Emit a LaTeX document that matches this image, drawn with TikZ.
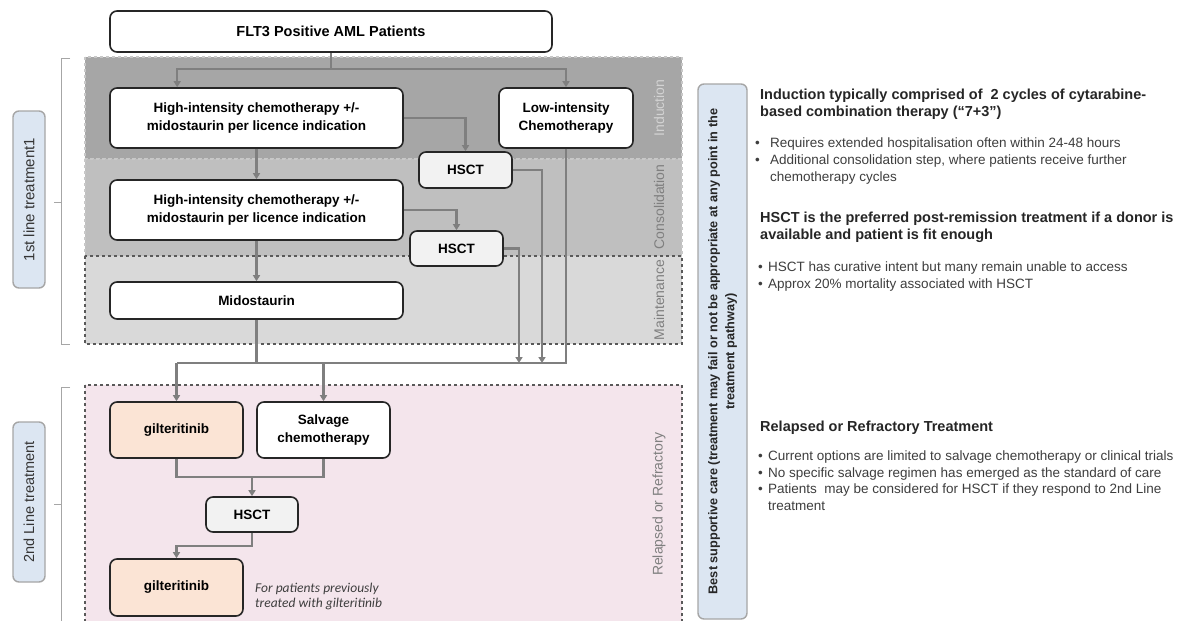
\documentclass[tikz,border=0pt]{standalone}
\usepackage{fontspec}
\setmainfont{Liberation Sans}
\newfontfamily\notefont{Carlito}
\usepackage{tikz}
\usepackage{xcolor}
\usetikzlibrary{arrows.meta}
\definecolor{indc}{HTML}{A6A6A6}
\definecolor{conc}{HTML}{BFBFBF}
\definecolor{mntc}{HTML}{D9D9D9}
\definecolor{relc}{HTML}{F4E5EC}
\definecolor{bluc}{HTML}{DCE6F2}
\definecolor{gilc}{HTML}{FBE4D5}
\definecolor{hsc}{HTML}{F2F2F2}
\definecolor{lnc}{HTML}{7F7F7F}
\definecolor{bdc}{HTML}{262626}
\definecolor{lgc}{HTML}{C8C8C8}
\definecolor{dkc}{HTML}{595959}
\newcommand\bul[1][15pt]{\makebox[#1][l]{\textbullet}}
\tikzset{
  box/.style={draw=bdc, line width=1.6pt, rounded corners=7pt, fill=white,
    align=center, inner sep=0pt, font=\fontsize{13.5}{18}\selectfont\bfseries},
  stage/.style={dashed, line width=1.2pt},
  ln/.style={draw=lnc, line width=2.4pt},
  lab/.style={rotate=90, text=lnc, font=\fontsize{14}{16}\selectfont},
  side/.style={rotate=90, draw=indc, line width=1.4pt, fill=bluc, rounded corners=6pt,
    align=center, inner sep=0pt},
  brc/.style={draw=indc, line width=1pt},
  head/.style={anchor=base west, align=left, inner sep=0pt, text=bdc,
    font=\fontsize{14.5}{17}\selectfont\bfseries},
  txt/.style={anchor=base west, align=left, inner sep=0pt, text=dkc!70!black,
    font=\fontsize{13.5}{17}\selectfont}
}
\begin{document}
\begin{tikzpicture}[x=1pt,y=-1pt,>={Triangle[length=6pt,width=7pt]}]
  \useasboundingbox (0,0) rectangle (1192,621);
  \fill[white] (0,0) rectangle (1192,621);
  \draw[stage,fill=indc,draw=lgc] (85,57) rectangle (682,159);
  \draw[stage,fill=conc,draw=lgc] (85,159) rectangle (682,256);
  \draw[stage,fill=mntc,draw=dkc] (85,256) rectangle (682,344);
  \draw[stage,fill=relc,draw=dkc] (85,385) rectangle (682,640);

  \node (li) [lab, text=lgc!80!white] at (659,108) {Induction};
  \node (lc) [lab] at (659,207) {Consolidation};
  \node (lm) [lab] at (659,300) {Maintenance};
  \node (lr) [lab] at (659,504) {Relapsed or Refractory};

  \draw[brc] (70,58) -| (61,344) -- (70,344);
  \draw[brc] (61,202) -- (54,202);
  \draw[brc] (70,387) -| (61,625);
  \draw[brc] (61,504) -- (54,504);
  \node (t1) [side, minimum width=177pt, minimum height=32pt,
    text=dkc!60!black, font=\fontsize{15}{17}\selectfont] at (29,199.5) {1st line treatment1};
  \node (t2) [side, minimum width=160pt, minimum height=32pt,
    text=dkc!60!black, font=\fontsize{14.5}{17}\selectfont] at (29,502) {2nd Line treatment};

  \node (flt) [box, minimum width=442pt, minimum height=41pt,
    font=\fontsize{14.5}{17}\selectfont\bfseries] at (331,31.5) {FLT3 Positive AML Patients};
  \node (hi) [box, minimum width=293pt, minimum height=60pt] at (256.5,118)
    {High-intensity chemotherapy +/-\\midostaurin per licence indication};
  \node (lo) [box, minimum width=134pt, minimum height=60pt] at (566,118)
    {Low-intensity\\Chemotherapy};
  \node (hs1) [box, fill=hsc, minimum width=93pt, minimum height=36pt] at (465.5,170) {HSCT};
  \node (hc) [box, minimum width=293pt, minimum height=60pt] at (256.5,210)
    {High-intensity chemotherapy +/-\\midostaurin per licence indication};
  \node (hs2) [box, fill=hsc, minimum width=93pt, minimum height=35pt] at (456.5,248.5) {HSCT};
  \node (mi) [box, minimum width=293pt, minimum height=37pt] at (256.5,300.5) {Midostaurin};
  \node (gi) [box, fill=gilc, minimum width=133pt, minimum height=56pt] at (176.5,430) {gilteritinib};
  \node (sc) [box, minimum width=133pt, minimum height=56pt] at (323.5,430) {Salvage\\chemotherapy};
  \node (hs3) [box, fill=hsc, minimum width=92pt, minimum height=35pt] at (252,514.5) {HSCT};
  \node (gj) [box, fill=gilc, minimum width=133pt, minimum height=57pt] at (176.5,587.5) {gilteritinib};
  \node (nt) [anchor=base west, align=left, inner sep=0pt, text=dkc!70!black,
    font=\notefont\itshape\fontsize{13.5}{15}\selectfont] at (255,607)
    {For patients previously\\treated with gilteritinib};

  \coordinate (j0) at (331,69);
  \draw[ln,->] (flt.south) -- (j0) -| ([xshift=68pt]hi.north west);
  \draw[ln,->] (j0) -| (lo.north);
  \draw[ln,->] (node cs:name=hi,anchor=east) -| (hs1.north);
  \draw[ln,->] (hi.south) -- (hc.north);
  \draw[ln,->] (node cs:name=hc,anchor=east) -| (hs2.north);
  \draw[ln,->] (hc.south) -- (mi.north);
  \coordinate (bl) at (176.5,363);
  \coordinate (br) at (566,363);
  \coordinate (e1) at (542,363);
  \coordinate (e2) at (519,363);
  \draw[ln] (lo.south) -- (br) -- (bl);
  \draw[ln] (mi.south) -- (mi.south |- bl);
  \draw[ln,->] (hs1.east) -| (e1);
  \draw[ln,->] (hs2.east) -| (e2);
  \draw[ln,->] (bl) -- (gi.north);
  \draw[ln,->] (sc.north |- bl) -- (sc.north);
  \coordinate (j1) at (252,477);
  \draw[ln] (gi.south) |- (j1) -| (sc.south);
  \draw[ln,->] (j1) -- (hs3.north);
  \draw[ln,->] (hs3.south) -- ++(0,13) -| (gj.north);

  \node (bs) [side, minimum width=535pt, minimum height=49pt, text=bdc,
    font=\fontsize{12.7}{17}\selectfont\bfseries] at (722.5,351.5)
    {Best supportive care (treatment may fail or not be appropriate at any point in the\\treatment pathway)};

  \node (h1) [head] at (760,116)
    {Induction typically comprised of\ \ 2 cycles of cytarabine-\\based combination therapy (“7+3”)};
  \node (b1) [txt] at (755,181.5)
    {\bul Requires extended hospitalisation often within 24-48 hours\\
     \bul Additional consolidation step, where patients receive further\\
     \hspace*{15pt}chemotherapy cycles};
  \node (h2) [head] at (760,239)
    {HSCT is the preferred post-remission treatment if a donor is\\available and patient is fit enough};
  \node (b2) [txt] at (758,288.5)
    {\bul[10pt]HSCT has curative intent but many remain unable to access\\
     \bul[10pt]Approx 20\% mortality associated with HSCT};
  \node (h3) [head] at (760,431) {Relapsed or Refractory Treatment};
  \node (b3) [txt, font=\fontsize{13.5}{16.5}\selectfont] at (758,510)
    {\bul[10pt]Current options are limited to salvage chemotherapy or clinical trials\\
     \bul[10pt]No specific salvage regimen has emerged as the standard of care\\
     \bul[10pt]Patients\ \ may be considered for HSCT if they respond to 2nd Line\\
     \hspace*{10pt}treatment};
\end{tikzpicture}
\end{document}
